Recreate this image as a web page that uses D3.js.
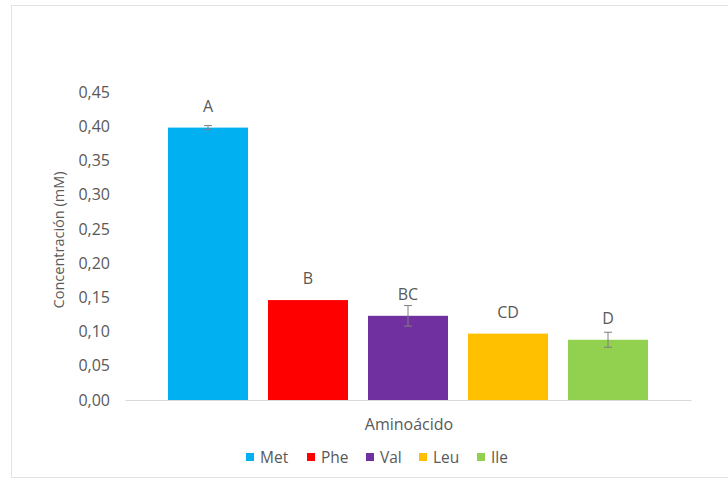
<!DOCTYPE html>
<html><head><meta charset="utf-8">
<script src="https://cdn.jsdelivr.net/npm/d3@7"></script>
<style>body{margin:0;background:#fff}svg{display:block}</style>
</head><body>
<script>
const categories = ["Met","Phe","Val","Leu","Ile"];
const values = [0.398, 0.146, 0.123, 0.097, 0.088];
const errors = [0.003, 0, 0.015, 0, 0.011];
const letters = ["A","B","BC","CD","D"];
const colors = ["#00B0F0","#FF0000","#7030A0","#FFC000","#92D050"];
const yTicks = [0,0.05,0.10,0.15,0.20,0.25,0.30,0.35,0.40,0.45];

const W=728,H=486;
const svg=d3.select("body").append("svg").attr("width",W).attr("height",H);
const font="'Open Sans', sans-serif";
const txt="#595959";

svg.append("rect").attr("x",11.5).attr("y",5.5).attr("width",740).attr("height",472)
  .attr("fill","#fff").attr("stroke","#e3e3e3");

const y=d3.scaleLinear().domain([0,0.45]).range([400,92]);
const group=d3.scaleBand().domain(["Aminoácido"]).range([125,691]).paddingInner(0).paddingOuter(0);
const x=d3.scaleBand().domain(categories).range([158,658]).paddingInner(0.2).paddingOuter(0.1);

// y axis
const ya=svg.append("g").attr("transform","translate(110,0)")
  .call(d3.axisLeft(y).tickValues(yTicks).tickSize(0).tickPadding(0).tickFormat(d=>d3.format(".2f")(d).replace(".",",")));
ya.select(".domain").remove();
ya.selectAll("text").attr("font-family",font).attr("font-size",16).attr("fill",txt);

// x axis line
const xa=svg.append("g").attr("transform","translate(0,400)")
  .call(d3.axisBottom(group).tickSize(0).tickFormat(""));
xa.select(".domain").attr("stroke","#d9d9d9").attr("stroke-width",1);

// bars
svg.selectAll("rect.bar").data(categories).join("rect").attr("class","bar")
  .attr("x",d=>x(d)).attr("width",x.bandwidth())
  .attr("y",(d,i)=>y(values[i])).attr("height",(d,i)=>y(0)-y(values[i]))
  .attr("fill",(d,i)=>colors[i]);

// error bars
const eb=svg.append("g").attr("stroke","#7f7f7f").attr("stroke-width",1);
categories.forEach((c,i)=>{
  if(!errors[i]) return;
  const cx=x(c)+x.bandwidth()/2;
  const t=y(values[i]+errors[i]), b=y(values[i]-errors[i]);
  eb.append("line").attr("x1",cx).attr("x2",cx).attr("y1",t).attr("y2",b);
  eb.append("line").attr("x1",cx-4).attr("x2",cx+4).attr("y1",t).attr("y2",t);
  eb.append("line").attr("x1",cx-4).attr("x2",cx+4).attr("y1",b).attr("y2",b);
});

// letters
svg.selectAll("text.lbl").data(categories).join("text").attr("class","lbl")
  .attr("x",d=>x(d)+x.bandwidth()/2)
  .attr("y",(d,i)=>y(values[i])-16)
  .attr("text-anchor","middle").attr("font-family",font).attr("font-size",16).attr("fill",txt)
  .text((d,i)=>letters[i]);

// axis titles
svg.append("text").attr("x",409).attr("y",430).attr("text-anchor","middle")
  .attr("font-family",font).attr("font-size",16).attr("fill",txt).text("Aminoácido");
svg.append("text").attr("transform","translate(64,240) rotate(-90)").attr("text-anchor","middle")
  .attr("font-family",font).attr("font-size",14.5).attr("fill",txt).text("Concentración (mM)");

// legend
const lx=[246,307,366,419,477];
const lg=svg.append("g");
categories.forEach((c,i)=>{
  lg.append("rect").attr("x",lx[i]).attr("y",453).attr("width",8).attr("height",8).attr("fill",colors[i]);
  lg.append("text").attr("x",lx[i]+14).attr("y",463).attr("font-family",font).attr("font-size",15.5)
    .attr("fill",txt).text(c);
});
</script>
</body></html>
